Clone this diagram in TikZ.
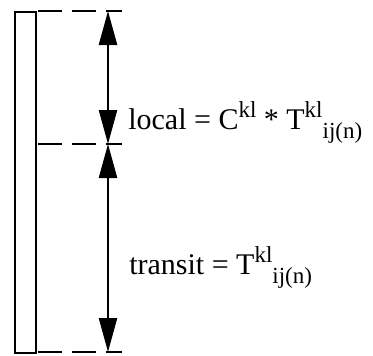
\documentclass[tikz,border=0pt]{standalone}
\usepackage{fontspec}
\setmainfont{Liberation Serif}
\usetikzlibrary{arrows.meta}
\newcommand{\upidx}[1]{\raisebox{0.4em}{\fontsize{23}{23}\selectfont #1}}
\newcommand{\dnidx}[1]{\raisebox{-0.32em}{\fontsize{23}{23}\selectfont #1}}
\begin{document}
\begin{tikzpicture}[x=1pt,y=-1pt,line width=2.6pt,
  guide/.style={dash pattern=on 24pt off 10pt},
  span/.style={{Triangle[length=34pt,width=18pt]}-{Triangle[length=34pt,width=18pt]},line width=2.4pt},
  lbl/.style={anchor=base west,inner sep=0pt,font=\fontsize{30}{30}\selectfont}]
  \useasboundingbox (0,0) rectangle (373,356);
  % the column
  \draw (15,353) rectangle (36,12);
  % level marks
  \draw[guide] (38,11) -- (122,11);
  \draw[guide] (38,144) -- (122,144);
  \draw[guide] (38,352) -- (122,352);
  \coordinate (top) at (108,11);
  \coordinate (mid) at (108,144);
  \coordinate (bot) at (108,352);
  \draw[span] (top) -- (mid);
  \draw[span] (mid) -- (bot);
  \node[lbl] (local) at (127,129) {local = C\upidx{kl} * T\upidx{kl}\dnidx{ij(n)}};
  \node[lbl] (transit) at (128,274) {transit = T\upidx{kl}\dnidx{ij(n)}};
\end{tikzpicture}
\end{document}
